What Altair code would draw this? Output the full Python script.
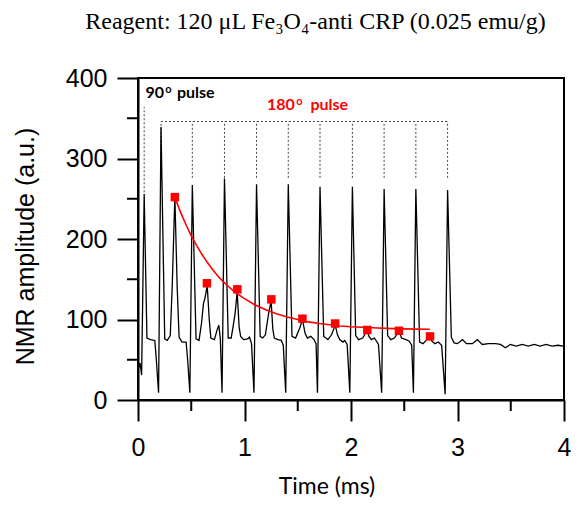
import altair as alt
import pandas as pd

# ---- data ----
time_ms = [
    0.005, 0.019, 0.034, 0.058, 0.084, 0.116, 0.158, 0.172, 0.193, 0.216,
    0.251, 0.275, 0.303, 0.321, 0.346, 0.368, 0.386, 0.414, 0.452, 0.466, 0.487, 0.510,
    0.545, 0.573, 0.596, 0.615, 0.628, 0.650, 0.669, 0.684, 0.717, 0.745, 0.759, 0.773, 0.789, 0.812,
    0.847, 0.875, 0.894, 0.912, 0.931, 0.950, 0.964, 0.992, 1.029, 1.047, 1.066, 1.089, 1.113,
    1.147, 1.171, 1.196, 1.227, 1.250, 1.266, 1.280, 1.313, 1.345, 1.364, 1.387, 1.411,
    1.446, 1.480, 1.518, 1.544, 1.569, 1.590, 1.622, 1.653, 1.672, 1.685, 1.709,
    1.744, 1.783, 1.817, 1.852, 1.873, 1.894, 1.925, 1.941, 1.964, 1.989, 2.013,
    2.044, 2.072, 2.110, 2.151, 2.169, 2.192, 2.220, 2.258, 2.288, 2.311,
    2.344, 2.374, 2.407, 2.451, 2.475, 2.516, 2.547, 2.570, 2.586, 2.609,
    2.644, 2.677, 2.705, 2.733, 2.761, 2.789, 2.819, 2.851, 2.884, 2.907,
    2.942, 2.968, 2.999, 3.047, 3.084, 3.140, 3.186, 3.233, 3.291, 3.357, 3.403,
    3.450, 3.496, 3.552, 3.608, 3.664, 3.720, 3.776, 3.832, 3.887, 3.943, 3.993,
]
amplitude = [
    40, 46, 31, 256, 77, 75, 74, 50, 9, 339,
    76, 74, 80, 140, 253, 140, 78, 72, 72, 50, 9, 267,
    76, 74, 95, 120, 126, 142, 100, 77, 75, 88, 93, 76, 9, 275,
    77, 77, 92, 108, 134, 90, 79, 75, 76, 78, 70, 9, 268,
    79, 77, 81, 108, 123, 88, 77, 75, 74, 68, 9, 268,
    79, 77, 89, 100, 83, 77, 79, 75, 70, 9, 265,
    79, 75, 81, 93, 81, 75, 72, 74, 69, 9, 265,
    80, 75, 77, 86, 79, 75, 77, 69, 9, 262,
    80, 75, 77, 85, 77, 75, 73, 68, 9, 262,
    72, 70, 74, 79, 73, 70, 72, 68, 7, 261,
    78, 71, 70, 75, 70, 70, 75, 69, 70, 70, 69,
    65, 69, 67, 69, 67, 69, 67, 69, 67, 68, 67,
]

echo_t = [0.346, 0.647, 0.933, 1.252, 1.544, 1.851, 2.153, 2.450, 2.742]
echo_amp = [252, 145, 137.5, 125, 101, 95, 87, 86, 79]

fit_t = [0.346, 0.40, 0.45, 0.50, 0.55, 0.60, 0.65, 0.70, 0.75, 0.80, 0.85, 0.90,
         1.00, 1.10, 1.20, 1.30, 1.40, 1.50, 1.60, 1.70, 1.80, 1.90, 2.00,
         2.20, 2.40, 2.60, 2.74]
fit_amp = [252, 233, 218, 204, 192, 181, 171, 162, 154, 147, 141, 135,
           126, 118, 112, 107, 103, 100, 97, 95, 93.5, 92, 91,
           89.7, 88.7, 88, 87.8]

pulse90_t = [0.058]
pulse90_lo = [258]
pulse90_hi = [364]
pulse180_t = [0.216, 0.510, 0.812, 1.113, 1.411, 1.709, 2.013, 2.311, 2.609, 2.907]
bracket_top = 346
bracket_bottom = 276

x_major = [0, 1, 2, 3, 4]
x_minor = [0.5, 1.5, 2.5, 3.5]
y_major = [0, 100, 200, 300, 400]
y_minor = [50, 150, 250, 350]

title_text = "Reagent: 120 μL Fe₃O₄-anti CRP (0.025 emu/g)"

# ---- tables ----
trace_df = pd.DataFrame({"t": time_ms, "v": amplitude})
echo_df = pd.DataFrame({"t": echo_t, "v": echo_amp})
fit_df = pd.DataFrame({"t": fit_t, "v": fit_amp})
p90_df = pd.DataFrame({"t": pulse90_t, "v": pulse90_lo, "v2": pulse90_hi})
p180_df = pd.DataFrame({"t": pulse180_t,
                        "v": [bracket_bottom] * len(pulse180_t),
                        "v2": [bracket_top] * len(pulse180_t)})
bracket_df = pd.DataFrame({"t": [pulse180_t[0]], "t2": [pulse180_t[-1]], "v": [bracket_top]})
xminor_df = pd.DataFrame({"t": x_minor})
yminor_df = pd.DataFrame({"v": y_minor})

W, H = 426, 322

xscale = alt.Scale(domain=[0, 4], nice=False, zero=False)
yscale = alt.Scale(domain=[0, 400], nice=False, zero=False)

xaxis = alt.Axis(
    values=x_major, format="d",
    tickSize=21, tickWidth=2, tickColor="black", domainColor="black", domainWidth=2,
    labelFont="Liberation Sans", labelFontSize=25, labelColor="black",
    labelPadding=14, labelFlush=False, labelOverlap=False, grid=False,
    title="Time (ms)", titleFont="Lato", titleFontSize=23, titleFontWeight="normal",
    titleColor="black", titleX=188.5, titleY=93, titleAlign="center",
    titleBaseline="alphabetic",
)
yaxis = alt.Axis(
    values=y_major, format="d",
    tickSize=21, tickWidth=2, tickColor="black", domainColor="black", domainWidth=2,
    labelFont="Liberation Sans", labelFontSize=25, labelColor="black",
    labelPadding=10, labelFlush=False, labelOverlap=False, grid=False,
    title="NMR amplitude (a.u.)", titleFont="Liberation Sans", titleFontSize=25,
    titleFontWeight="normal", titleColor="black", titleX=-113, titleY=168,
    titleAlign="center", titleBaseline="middle", titleAngle=270,
)

X = alt.X("t:Q", scale=xscale, axis=xaxis)
Y = alt.Y("v:Q", scale=yscale, axis=yaxis)

dash = dict(strokeDash=[2, 2], color="#444444", strokeWidth=1)

p90_rule = alt.Chart(p90_df).mark_rule(**dash).encode(x=X, y=Y, y2="v2:Q")
p180_rule = alt.Chart(p180_df).mark_rule(**dash).encode(x=X, y=Y, y2="v2:Q")
bracket_rule = alt.Chart(bracket_df).mark_rule(**dash).encode(x=X, x2="t2:Q", y=Y)

xminor = alt.Chart(xminor_df).mark_rule(color="black", strokeWidth=2).encode(
    x=X, y=alt.value(H), y2=alt.value(H + 11))
yminor = alt.Chart(yminor_df).mark_rule(color="black", strokeWidth=2).encode(
    y=Y, x=alt.value(0), x2=alt.value(-11))

trace = alt.Chart(trace_df).mark_line(color="black", strokeWidth=1.3).encode(x=X, y=Y)
fit = alt.Chart(fit_df).mark_line(color="#ff0000", strokeWidth=1.6).encode(x=X, y=Y)
echoes = alt.Chart(echo_df).mark_square(color="#ff0000", size=72, opacity=1).encode(x=X, y=Y)


def label(text, x, y, size, color="black", weight="bold", font="Lato", align="left"):
    return alt.Chart(pd.DataFrame({"s": [text]})).mark_text(
        font=font, fontSize=size, fontWeight=weight, color=color,
        align=align, baseline="alphabetic",
    ).encode(x=alt.value(x), y=alt.value(y), text="s:N")


texts = [
    label("90", 7.5, 19.7, 16),
    label("o", 27.3, 14.7, 11),
    label("pulse", 39, 19.7, 16),
    label("180", 129, 32, 16, color="#ff0000"),
    label("o", 158.2, 27, 11, color="#ff0000"),
    label("pulse", 172.4, 32, 16, color="#ff0000"),
    label(title_text, 177.5, -49, 24, weight="normal", font="Liberation Serif", align="center"),
]

chart = alt.layer(
    p90_rule, p180_rule, bracket_rule, xminor, yminor, trace, fit, echoes, *texts
).properties(
    width=W, height=H,
    autosize=alt.AutoSizeParams(type="none"),
    padding={"left": 130, "top": 70, "right": 7, "bottom": 100},
    background="white",
).configure_view(stroke="black", strokeWidth=2)

chart.save("out.html", embed_options={"renderer": "svg", "actions": False})
